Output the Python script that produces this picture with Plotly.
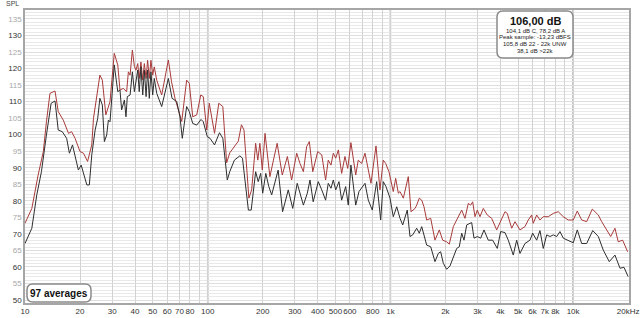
import plotly.graph_objects as go

# ---- data (frequency in Hz, SPL in dB) ----
red_pts = [
    (10.0, 73.2), (10.9, 77.7), (11.8, 87.8), (12.6, 94.9), (13.1, 103.9), (13.7, 112.5), (14.6, 113.2),
    (15.2, 107.0), (16.2, 104.4), (17.3, 100.4), (18.0, 100.9), (18.8, 98.9), (20.0, 94.9), (20.9, 94.4),
    (22.0, 91.9), (23.2, 96.9), (23.7, 104.9), (24.7, 112.0), (25.7, 118.0), (26.5, 116.5), (27.7, 106.0),
    (29.2, 110.0), (30.8, 124.6), (32.2, 121.1), (33.1, 113.5), (34.5, 114.0), (36.0, 113.0), (36.8, 119.0),
    (37.6, 118.0), (38.7, 125.6), (39.7, 120.6), (40.5, 119.5), (41.4, 121.5), (42.2, 117.0), (43.1, 122.0),
    (44.1, 116.5), (45.0, 121.5), (46.0, 117.0), (46.9, 122.5), (47.9, 117.0), (48.9, 122.5), (50.0, 118.0),
    (51.0, 120.5), (52.6, 116.5), (56.0, 112.0), (60.9, 122.6), (63.4, 116.0), (66.2, 111.0), (68.8, 108.0),
    (72.1, 104.0), (76.7, 116.5), (79.3, 115.5), (82.8, 105.4), (87.1, 106.0), (91.6, 112.0), (94.6, 111.5),
    (98.8, 101.4), (102, 109.5), (109, 100.4), (115, 109.5), (121, 108.5), (127, 91.5), (132, 94.5),
    (138, 96.0), (147, 98.0), (153, 103.0), (158, 101.4), (168, 80.8), (174, 83.3), (183, 97.4), (188, 92.3),
    (193, 97.4), (199, 89.3), (206, 100.4), (219, 87.3), (229, 92.3), (240, 97.4), (256, 87.8), (273, 93.4),
    (288, 86.3), (307, 94.4), (320, 91.3), (334, 88.8), (348, 96.4), (360, 97.9), (376, 88.8), (400, 94.9),
    (421, 93.9), (442, 86.3), (457, 92.3), (473, 90.8), (487, 94.4), (502, 92.9), (519, 95.4), (541, 88.3),
    (564, 93.4), (584, 89.8), (608, 97.6), (626, 93.4), (646, 87.8), (667, 92.3), (696, 91.3), (726, 94.4),
    (757, 89.3), (783, 85.3), (834, 96.6), (877, 83.3), (914, 92.3), (942, 91.3), (982, 88.8), (1037, 82.8),
    (1069, 86.8), (1105, 82.3), (1129, 82.8), (1177, 80.8), (1253, 87.3), (1297, 76.7), (1364, 77.7),
    (1393, 78.7), (1439, 80.8), (1484, 80.2), (1527, 78.2), (1580, 74.2), (1662, 74.7), (1754, 68.1),
    (1852, 71.2), (1933, 68.1), (2033, 67.6), (2101, 66.9), (2210, 72.2), (2353, 75.2), (2456, 77.2),
    (2560, 74.7), (2669, 79.2), (2751, 78.7), (2821, 79.7), (2904, 75.2), (2990, 77.2), (3093, 75.2),
    (3225, 77.7), (3391, 75.7), (3584, 74.7), (3817, 71.2), (3979, 73.2), (4238, 76.7), (4363, 76.2),
    (4612, 71.7), (4808, 73.7), (5120, 71.2), (5453, 72.2), (5684, 74.2), (5933, 75.7), (6054, 73.2),
    (6319, 75.7), (6587, 74.2), (6867, 75.2), (7314, 75.2), (7789, 76.2), (8296, 76.7), (8836, 75.2),
    (9410, 74.2), (10020, 74.2), (10540, 76.9), (11140, 74.2), (11870, 73.7), (12740, 77.5), (13740, 75.7),
    (14340, 73.7), (15270, 71.2), (16060, 69.2), (16950, 71.7), (17670, 67.6), (18670, 68.1), (19890, 64.6),
]

black_pts = [
    (10.0, 67.1), (10.9, 71.7), (11.6, 81.8), (12.3, 88.8), (13.1, 99.9), (13.9, 109.5), (14.6, 110.2),
    (15.2, 101.4), (16.0, 100.9), (16.9, 98.9), (17.5, 94.4), (18.2, 96.9), (19.6, 89.3), (20.3, 90.8),
    (21.8, 84.8), (22.5, 84.8), (23.2, 93.9), (24.2, 101.4), (25.0, 104.9), (25.7, 111.0), (26.5, 109.0),
    (27.2, 97.9), (28.0, 99.9), (28.6, 104.4), (29.2, 103.9), (30.8, 121.1), (32.2, 113.0), (33.1, 113.5),
    (33.8, 107.5), (35.0, 110.5), (35.7, 105.4), (36.3, 111.5), (37.6, 112.0), (38.7, 119.0), (39.7, 113.0),
    (40.5, 117.0), (41.4, 119.5), (42.2, 113.0), (43.1, 120.5), (44.1, 112.0), (45.0, 119.5), (46.0, 111.5),
    (46.9, 119.5), (47.9, 111.0), (48.9, 119.0), (50.0, 112.0), (51.0, 117.0), (52.6, 112.5), (56.0, 108.5),
    (60.9, 117.0), (63.8, 111.0), (67.7, 110.0), (70.5, 105.4), (72.6, 98.9), (76.7, 108.5), (79.3, 107.0),
    (82.8, 103.4), (87.1, 102.9), (91.9, 104.6), (94.6, 103.9), (99.5, 99.4), (103, 98.9), (109, 96.9),
    (116, 100.6), (121, 98.9), (128, 86.3), (132, 88.8), (140, 92.3), (150, 93.6), (155, 92.9), (167, 77.2),
    (173, 77.2), (183, 88.8), (189, 85.8), (195, 88.3), (200, 82.3), (208, 88.3), (216, 84.3), (224, 81.8),
    (243, 89.3), (257, 76.7), (276, 83.3), (292, 77.7), (309, 85.3), (334, 78.7), (351, 82.3), (363, 86.3),
    (378, 79.7), (403, 85.8), (421, 83.3), (442, 80.2), (457, 85.3), (473, 83.8), (487, 86.3), (502, 83.3),
    (523, 85.8), (541, 80.2), (569, 84.3), (588, 78.7), (608, 90.8), (626, 84.3), (646, 78.7), (673, 82.8),
    (702, 84.3), (726, 85.3), (757, 80.2), (796, 77.2), (841, 85.8), (885, 74.2), (914, 85.8), (946, 84.3),
    (995, 80.8), (1037, 75.2), (1083, 78.2), (1129, 74.7), (1168, 72.7), (1237, 77.2), (1280, 69.2),
    (1325, 69.7), (1393, 71.7), (1439, 70.2), (1484, 72.2), (1527, 69.7), (1580, 66.6), (1662, 66.1),
    (1754, 61.6), (1829, 64.1), (1885, 64.6), (1948, 61.1), (2033, 59.3), (2119, 60.3), (2210, 63.1),
    (2306, 65.6), (2383, 66.1), (2456, 70.2), (2528, 68.1), (2616, 72.7), (2727, 73.2), (2786, 73.4),
    (2868, 68.7), (2990, 69.2), (3120, 68.7), (3253, 71.2), (3433, 68.1), (3629, 68.1), (3846, 65.6),
    (4014, 70.7), (4238, 70.4), (4418, 68.1), (4705, 63.6), (4911, 68.1), (5120, 64.1), (5453, 67.1),
    (5808, 68.1), (6009, 70.2), (6319, 68.1), (6587, 71.0), (6867, 65.6), (7168, 69.7), (7473, 69.2),
    (7789, 69.7), (8132, 69.2), (8477, 70.7), (8836, 68.7), (9410, 68.1), (10020, 67.3), (10540, 71.2),
    (11140, 67.1), (11870, 67.1), (12810, 71.0), (13740, 69.2), (14630, 65.1), (15780, 61.6), (16950, 63.6),
    (18060, 59.6), (18990, 59.9), (20000, 57.1),
]

x_tick_vals = [10, 20, 30, 40, 50, 60, 70, 80, 90, 100, 200, 300, 400, 500, 600, 700, 800, 900,
               1000, 2000, 3000, 4000, 5000, 6000, 7000, 8000, 9000, 10000, 20000]
x_tick_text = ["10", "20", "30", "40", "50", "60", "70", "80", "", "100", "200", "300", "400", "500",
               "600", "", "800", "", "1k", "2k", "3k", "4k", "5k", "6k", "7k", "8k", "", "10k", "20kHz"]
decade_lines = [100, 1000, 10000]

y_tick_vals = list(range(50, 140, 5))
y_tick_text = [
    (f"<span style='color:#333333'>{v}</span>" if v % 10 == 0 else f"<span style='color:#a8a8a8'>{v}</span>")
    for v in y_tick_vals
]

info_title = "106,00 dB"
info_lines = ["104,1 dB C, 78,2 dB A", "Peak sample: -13,23 dBFS", "105,8 dB 22 - 22k UNW", "38,1 dB >22k"]
avg_text = "97 averages"

FONT = "Liberation Sans, Arial, sans-serif"

fig = go.Figure()
fig.add_trace(go.Scatter(x=[p[0] for p in red_pts], y=[p[1] for p in red_pts], mode="lines",
                         line=dict(color="#a83a3a", width=1), hoverinfo="skip", showlegend=False))
fig.add_trace(go.Scatter(x=[p[0] for p in black_pts], y=[p[1] for p in black_pts], mode="lines",
                         line=dict(color="#2e2e2e", width=1), hoverinfo="skip", showlegend=False))

W, H = 640, 318
L, R, T, B = 25, 11, 10, 15
pw, ph = W - L - R, H - T - B


def px_x(x):
    return (x - L) / pw


def px_y(y):
    return (H - B - y) / ph


def rounded(x0, y0, x1, y1, r):
    a0, a1 = px_x(x0), px_x(x1)
    b0, b1 = px_y(y1), px_y(y0)
    rx, ry = r / pw, r / ph
    return (f"M {a0+rx},{b0} L {a1-rx},{b0} Q {a1},{b0} {a1},{b0+ry} L {a1},{b1-ry} "
            f"Q {a1},{b1} {a1-rx},{b1} L {a0+rx},{b1} Q {a0},{b1} {a0},{b1-ry} "
            f"L {a0},{b0+ry} Q {a0},{b0} {a0+rx},{b0} Z")


shapes = []
for d in decade_lines:
    shapes.append(dict(type="line", xref="x", yref="paper", x0=d, x1=d, y0=0, y1=1,
                       line=dict(color="#a6a6a6", width=1.5), layer="between"))
shapes.append(dict(type="path", xref="paper", yref="paper", path=rounded(497, 11, 573, 58, 6),
                   fillcolor="white", line=dict(color="#8a8a8a", width=1.5), layer="above"))
shapes.append(dict(type="path", xref="paper", yref="paper", path=rounded(27, 284, 91, 302, 6),
                   fillcolor="white", line=dict(color="#8a8a8a", width=1.5), layer="above"))

annotations = [
    dict(text="SPL", xref="paper", yref="paper", x=px_x(12), y=px_y(4), showarrow=False,
         xanchor="center", yanchor="middle", font=dict(size=7, color="#444", family=FONT)),
    dict(text=f"<b>{info_title}</b>", xref="paper", yref="paper", x=px_x(535), y=px_y(21), showarrow=False,
         xanchor="center", yanchor="middle", font=dict(size=11, color="#111", family=FONT)),
    dict(text=f"<b>{avg_text}</b>", xref="paper", yref="paper", x=px_x(59), y=px_y(293), showarrow=False,
         xanchor="center", yanchor="middle", font=dict(size=10, color="#111", family=FONT)),
]
for i, line in enumerate(info_lines):
    annotations.append(dict(text=line, xref="paper", yref="paper", x=px_x(535), y=px_y(30.5 + 6.8 * i),
                            showarrow=False, xanchor="center", yanchor="middle",
                            font=dict(size=6, color="#222", family=FONT)))

fig.update_layout(
    width=W, height=H, margin=dict(l=L, r=R, t=T, b=B, pad=0),
    paper_bgcolor="white", plot_bgcolor="white", hovermode=False,
    font=dict(family=FONT, size=8, color="#333"),
    shapes=shapes, annotations=annotations, showlegend=False,
)
fig.update_xaxes(type="log", range=[1, 4.306], tickvals=x_tick_vals, ticktext=x_tick_text,
                 tickangle=0, showgrid=True, gridcolor="#d2d2d2", gridwidth=1, ticks="", ticklen=0,
                 tickfont=dict(size=8, color="#333", family=FONT), showline=True, linecolor="#a6a6a6",
                 linewidth=1.5, mirror=True, zeroline=False, automargin=False, fixedrange=True)
fig.update_yaxes(range=[49.1, 137.7], tickvals=y_tick_vals, ticktext=y_tick_text,
                 showgrid=True, gridcolor="#dedede", gridwidth=1, ticks="", ticklen=0,
                 minor=dict(dtick=1, tick0=50, showgrid=True, gridcolor="#e9e9e9", gridwidth=1),
                 tickfont=dict(size=8, color="#333", family=FONT), showline=True, linecolor="#a6a6a6",
                 linewidth=1.5, mirror=True, zeroline=False, automargin=False, fixedrange=True)

fig.write_html("out.html")
